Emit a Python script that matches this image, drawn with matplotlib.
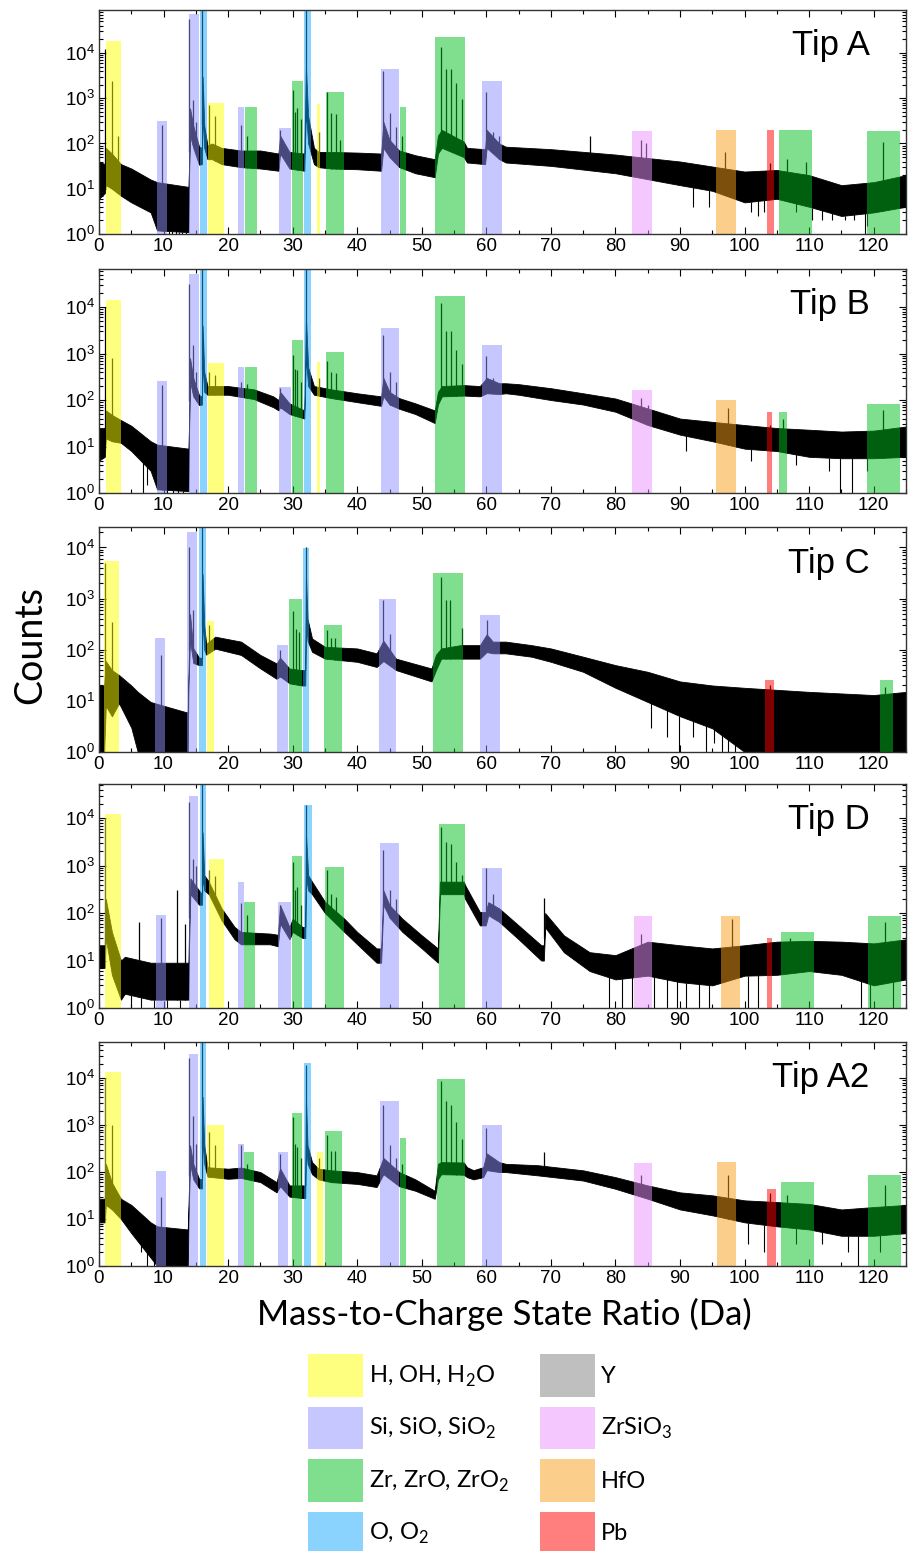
import numpy as np
import matplotlib
matplotlib.use("Agg")
import matplotlib.pyplot as plt
from matplotlib.patches import Patch
from matplotlib.ticker import MultipleLocator, LogLocator, NullFormatter

plt.rcParams["font.family"] = ["Liberation Sans", "DejaVu Sans"]

# ---- range colours (drawn at alpha 0.5 on top of the spectrum) ----
species = ["H", "Si", "Zr", "O", "Y", "ZrSiO3", "HfO", "Pb"]
species_labels = [r"H, OH, H$_\mathregular{2}$O", r"Si, SiO, SiO$_\mathregular{2}$",
                  r"Zr, ZrO, ZrO$_\mathregular{2}$", r"O, O$_\mathregular{2}$",
                  "Y", r"ZrSiO$_\mathregular{3}$", "HfO", "Pb"]
species_colors = ["#ffff00", "#9191ff", "#00c121", "#19a9ff",
                  "#818181", "#eb91ff", "#f9a119", "#ff0000"]
color_of = dict(zip(species, species_colors))

# ---------------- Tip A ----------------
A_env_x  = [0, 0.9, 1.05, 2, 3.4, 5, 8, 9, 13.85, 13.95, 14.1, 14.6, 15.5, 15.95, 16.05, 16.3, 16.8, 17.5, 19, 22, 25,
            27.8, 28.05, 29.5, 31.8, 32.05, 32.4, 33.3, 34, 36, 40, 43.7, 44.05, 45, 46.5, 49, 52, 52.5, 53.1, 56.5,
            57, 59.8, 60.05, 62, 63, 70, 80, 90, 95, 100, 105, 110, 115, 120, 125]
A_env_hi = [40, 35, 80, 60, 35, 28, 16, 14, 11, 30, 600, 250, 85, 80, 3000, 250, 90, 100, 80, 70, 70,
            60, 150, 65, 60, 5000, 400, 80, 65, 65, 63, 60, 300, 120, 70, 55, 45, 150, 200, 110,
            80, 75, 200, 100, 85, 75, 57, 40, 31, 24, 26, 20, 12, 14, 20]
A_env_lo = [6, 8, 12, 10, 7, 5, 3, 1.2, 1.1, 20, 150, 80, 34, 35, 500, 80, 45, 45, 35, 30, 28,
            25, 60, 28, 25, 500, 100, 35, 30, 28, 27, 25, 80, 50, 30, 22, 18, 60, 80, 50,
            38, 35, 80, 45, 38, 32, 22, 12, 9, 5, 6, 4, 2.5, 3, 4]
A_peak_x = [1.0, 2.0, 3.0, 9.7, 14.0, 14.5, 15.0, 16.0, 17.0, 18.0, 22.0, 23.0, 28.0, 30.0, 30.4, 30.7, 31.3, 32.0,
            34.0, 35.3, 36.0, 36.7, 37.3, 44.0, 45.0, 46.0, 47.0, 53.0, 53.7, 54.6, 55.3, 56.3, 60.0, 61.0, 62.0,
            76.0, 84.0, 84.7, 97.0, 104.0, 106.5, 109.5, 121.5]
A_peak_h = [12000, 2400, 150, 250, 57000, 900, 300, 1e6, 700, 400, 250, 150, 200, 1500, 500, 600, 350, 1e6,
            180, 1350, 480, 450, 120, 4000, 480, 230, 150, 13500, 4400, 4400, 2200, 950, 1400, 175, 150,
            150, 120, 100, 66, 38, 45, 40, 110]
A_dip_x = [10.8, 11.3, 11.9, 12.4, 12.9, 13.4, 92, 94.5, 101, 102, 103, 108, 110.5, 112, 113.5, 115.5, 117, 118.6, 119]
A_dip_y = [1, 1, 1, 1, 1, 1, 4, 4, 3, 2.5, 3, 3, 2, 2, 2, 2, 2, 1, 1.5]
A_bars = [("H", 1.08, 3.4, 18500), ("Si", 9.0, 10.5, 310), ("Si", 13.9, 15.5, 74000), ("O", 15.6, 16.8, 1e6),
          ("H", 16.9, 19.3, 770), ("Si", 21.5, 22.4, 630), ("Zr", 22.6, 24.4, 630), ("Si", 27.9, 29.7, 225),
          ("Zr", 29.9, 31.6, 2400), ("O", 31.8, 32.9, 1e6), ("H", 33.7, 34.3, 740), ("Zr", 35.1, 37.9, 1350),
          ("Si", 43.7, 46.4, 4400), ("Zr", 46.7, 47.6, 630), ("Zr", 52.1, 56.7, 23000), ("Si", 59.3, 62.4, 2400),
          ("ZrSiO3", 82.6, 85.6, 185), ("HfO", 95.5, 98.6, 195), ("Pb", 103.4, 104.6, 195),
          ("Zr", 105.4, 110.5, 195), ("Zr", 119.0, 124.1, 185)]

# ---------------- Tip B ----------------
B_env_x  = [0, 0.9, 1.05, 2, 3.4, 5, 8, 9, 13.85, 13.95, 14.1, 14.6, 15.5, 15.95, 16.05, 16.3, 16.8, 20, 24, 27,
            27.8, 28.05, 29.5, 31.8, 32.05, 32.4, 33.3, 36, 40, 43.7, 44.05, 45, 46.5, 49, 52, 52.5, 53.1, 56.5,
            59, 60.05, 62, 63, 65, 70, 75, 80, 85, 90, 95, 100, 105, 110, 115, 120, 125]
B_env_hi = [25, 25, 60, 48, 37, 28, 13, 11, 9, 30, 800, 300, 127, 120, 4000, 400, 200, 200, 170, 120,
            100, 150, 85, 60, 6000, 500, 200, 170, 140, 120, 300, 150, 110, 85, 60, 150, 200, 210,
            200, 300, 230, 230, 220, 180, 140, 108, 66, 40, 34, 29, 25, 23, 21, 22, 27]
B_env_lo = [5, 6, 15, 13, 12, 8, 3, 1.2, 1.1, 20, 250, 120, 78, 80, 800, 150, 130, 130, 105, 70,
            60, 70, 50, 40, 800, 200, 130, 110, 90, 75, 120, 80, 65, 50, 32, 80, 120, 125,
            120, 140, 135, 140, 130, 100, 80, 56, 29, 18, 13, 9, 8, 6, 5.6, 5.6, 6]
B_peak_x = [1.0, 2.0, 9.7, 14.0, 14.5, 15.0, 16.0, 17.0, 18.0, 22.0, 23.0, 28.0, 30.0, 30.4, 30.7, 31.3, 32.0,
            34.0, 35.3, 36.0, 36.7, 44.0, 45.0, 46.0, 53.0, 53.7, 54.6, 55.3, 56.3, 60.0, 61.0,
            84.0, 85.0, 97.5, 104.0, 106.0, 121.5]
B_peak_h = [10000, 800, 210, 32000, 1500, 400, 1e6, 400, 350, 250, 220, 180, 920, 470, 450, 250, 1e6,
            300, 700, 400, 380, 2500, 400, 250, 12000, 3000, 3000, 1200, 600, 900, 300,
            110, 80, 66, 29, 40, 61]
B_dip_x = [6.8, 7.5, 10.5, 11.5, 12.3, 13.0, 91, 101, 108, 113, 114.7, 116.7, 119]
B_dip_y = [1, 1.5, 1, 1, 1, 1, 8, 5, 4, 3, 1, 1, 3]
B_bars = [("H", 1.08, 3.4, 14000), ("Si", 9.0, 10.5, 260), ("Si", 13.9, 15.5, 51000), ("O", 15.6, 16.8, 1e6),
          ("H", 16.9, 19.3, 630), ("Si", 21.5, 22.4, 520), ("Zr", 22.6, 24.4, 520), ("Si", 27.9, 29.7, 187),
          ("Zr", 29.9, 31.6, 1950), ("O", 31.8, 32.9, 1e6), ("H", 33.7, 34.3, 650), ("Zr", 35.1, 37.9, 1100),
          ("Si", 43.7, 46.4, 3500), ("Zr", 52.1, 56.7, 17000), ("Si", 59.3, 62.4, 1500),
          ("ZrSiO3", 82.6, 85.6, 163), ("HfO", 95.5, 98.6, 100), ("Pb", 103.4, 104.3, 56),
          ("Zr", 105.4, 106.6, 56), ("Zr", 119.0, 124.1, 82)]

# ---------------- Tip C ----------------
C_env_x  = [0, 0.8, 1.05, 2, 3.1, 5, 6, 8, 13.5, 13.75, 13.85, 14.1, 14.6, 15.5, 15.95, 16.05, 16.3, 16.6, 18, 22,
            25, 27.5, 28.05, 29.5, 31.4, 31.95, 32.05, 32.3, 33, 35, 40, 43, 44.05, 46, 51.5, 52.2, 53, 56,
            59, 60.05, 61, 63, 67, 70, 75, 80, 85, 90, 95, 100, 110, 120, 125]
C_env_hi = [20, 20, 60, 40, 32, 20, 15, 9.5, 6, 6, 30, 500, 107, 70, 70, 3000, 300, 130, 180, 144,
            79, 54, 70, 43, 40, 40, 3000, 400, 166, 114, 106, 85, 150, 67, 43, 80, 106, 123,
            123, 200, 144, 144, 123, 106, 73, 50, 37, 24, 20, 18, 15, 13, 15]
C_env_lo = [1, 1, 8, 5, 9, 3, 1, 1, 1, 1, 20, 150, 55, 50, 50, 500, 100, 80, 105, 79,
            43, 27, 30, 22, 20, 20, 400, 150, 91, 67, 58, 46, 60, 40, 24, 40, 67, 67,
            67, 90, 85, 85, 73, 58, 37, 18, 9.5, 5, 2.9, 1, 1, 1, 1]
C_peak_x = [1.0, 2.0, 9.6, 14.0, 14.5, 16.0, 17.0, 28.0, 30.0, 30.5, 31.0, 32.0, 35.3, 36.0, 36.6,
            44.0, 45.0, 53.0, 53.7, 54.4, 56.2, 60.1, 104.0, 121.8]
C_peak_h = [5000, 355, 79, 10000, 600, 1e6, 300, 100, 560, 250, 220, 10000, 244, 170, 170,
            940, 200, 2700, 940, 940, 262, 380, 20, 19]
C_dip_x = [85.5, 88, 89.9, 92, 94, 95.2, 96.5, 97.5, 98.5]
C_dip_y = [3, 2, 1, 2, 1, 1.5, 1, 1, 1]
C_bars = [("H", 0.8, 3.1, 5500), ("Si", 8.7, 10.2, 167), ("Si", 13.6, 15.2, 20000), ("O", 15.5, 16.5, 1e6),
          ("H", 16.7, 17.8, 370), ("Si", 27.6, 29.3, 125), ("Zr", 29.5, 31.4, 1000), ("O", 31.6, 32.6, 9800),
          ("Zr", 34.8, 37.7, 310), ("Si", 43.4, 46.0, 1000), ("Zr", 51.8, 56.4, 3200), ("Si", 59.0, 62.1, 480),
          ("Pb", 103.2, 104.6, 26), ("Zr", 121.0, 123.0, 26)]

# ---------------- Tip D ----------------
D_env_x  = [0, 0.9, 1.05, 2, 3.4, 4, 8, 13.85, 13.95, 14.15, 15.5, 15.95, 16.05, 16.3, 17, 19, 21, 22, 26.5, 27.7,
            28.05, 29.5, 30, 31.5, 31.95, 32.05, 32.4, 33, 35, 38, 40, 43, 43.7, 44.05, 45, 47, 50, 52.5, 52.8,
            56.5, 56.7, 59, 59.9, 60.3, 62, 65, 68.5, 68.9, 69.1, 72, 76, 80, 85, 90, 95, 100, 105, 110, 115,
            120, 125]
D_env_hi = [21, 21, 200, 40, 10, 12, 9, 9, 50, 540, 300, 250, 5000, 630, 460, 125, 51, 40, 37, 35,
            147, 51, 76, 51, 51, 5000, 630, 460, 173, 76, 40, 18, 18, 300, 147, 76, 34, 18, 460,
            460, 390, 105, 105, 170, 125, 55, 21, 21, 100, 34, 15, 13, 25, 21, 18, 21, 25, 26, 25,
            23, 28]
D_env_lo = [7, 7, 30, 5, 1.5, 2, 1.5, 1.5, 20, 250, 150, 150, 600, 300, 250, 70, 28, 22, 22, 20,
            60, 28, 40, 30, 30, 600, 300, 250, 100, 40, 22, 9, 9, 150, 80, 40, 18, 9, 250,
            250, 200, 55, 55, 90, 65, 28, 10, 10, 50, 15, 6, 4, 4.8, 3.5, 3, 4.8, 5, 6, 5,
            3, 4]
D_peak_x = [1.0, 6.2, 9.6, 12.1, 13.3, 14.0, 14.5, 15.0, 16.0, 17.0, 18.0, 22.0, 23.0, 28.0, 30.0, 30.3, 30.7,
            31.3, 32.0, 35.3, 36.0, 36.7, 44.0, 45.0, 46.0, 53.0, 53.8, 54.5, 55.3, 56.3, 60.0, 61.0, 69.0,
            84.0, 98.0, 104.0, 107.0, 121.7]
D_peak_h = [10000, 65, 80, 300, 60, 22000, 1400, 1000, 1e6, 800, 600, 160, 90, 147, 1200, 300, 350,
            150, 19000, 800, 250, 220, 2130, 300, 200, 6600, 3200, 2800, 1200, 630, 870, 250, 210,
            37, 76, 25, 30, 65]
D_dip_x = [5, 6.5, 8.5, 10.5, 12.5, 79, 81, 82.5, 86, 88, 89.5, 91, 93, 94.5, 100.5, 102, 118, 119.5, 123]
D_dip_y = [1, 1, 1, 1, 1, 1, 1, 1, 1, 1, 1, 1, 1, 1, 1, 1, 1, 1, 1]
D_bars = [("H", 1.0, 3.4, 12000), ("Si", 8.9, 10.4, 93), ("Si", 13.9, 15.3, 29000), ("O", 15.7, 16.6, 1e6),
          ("H", 17.0, 19.4, 1350), ("Si", 21.6, 22.4, 460), ("Zr", 22.5, 24.2, 172), ("Si", 27.8, 29.8, 172),
          ("Zr", 29.9, 31.4, 1620), ("O", 31.8, 33.0, 19000), ("Zr", 35.0, 38.0, 950), ("Si", 43.6, 46.4, 2950),
          ("Zr", 52.7, 56.7, 7600), ("Si", 59.3, 62.4, 900), ("ZrSiO3", 82.8, 85.6, 86), ("HfO", 96.3, 99.3, 86),
          ("Pb", 103.5, 104.3, 30), ("Zr", 105.6, 110.7, 39), ("Zr", 119.1, 124.3, 86)]

# ---------------- Tip A2 ----------------
A2_env_x  = [0, 0.9, 1.05, 2, 3.4, 5, 8, 9, 13.75, 13.9, 14.1, 14.6, 15.5, 15.95, 16.05, 16.3, 16.8, 20, 22, 25,
             27.5, 28.05, 29.5, 31.5, 31.95, 32.05, 32.3, 33, 34, 36, 40, 43, 44.05, 46.5, 49, 52, 52.5, 53,
             56.5, 57, 58, 59.5, 60.05, 62, 63, 68, 75, 80, 85, 90, 95, 100, 105, 110, 115, 120, 125]
A2_env_hi = [27, 27, 150, 60, 27, 20, 8.5, 7, 6, 30, 370, 150, 72, 70, 4000, 370, 127, 118, 125, 100,
             61, 120, 52, 52, 52, 4000, 370, 163, 118, 109, 100, 85, 200, 100, 70, 40, 150, 163,
             160, 127, 110, 127, 250, 163, 150, 140, 109, 78, 52, 37, 32, 25, 23, 21, 16, 18, 20]
A2_env_lo = [8.5, 8.5, 20, 16, 10, 5, 1.5, 1, 1, 15, 150, 70, 45, 45, 600, 150, 80, 72, 75, 61,
             37, 50, 30, 28, 28, 500, 150, 90, 70, 61, 56, 48, 90, 50, 40, 27, 70, 90,
             88, 78, 70, 78, 110, 100, 100, 85, 66, 44, 27, 16, 12, 8.5, 7, 6, 4.4, 4.4, 5]
A2_peak_x = [1.0, 2.0, 9.6, 14.0, 14.5, 15.0, 16.0, 17.0, 18.0, 22.0, 23.0, 28.0, 30.0, 30.4, 30.7, 31.3, 32.0,
             34.0, 35.3, 36.0, 36.6, 44.0, 45.0, 46.0, 47.0, 53.0, 53.8, 54.5, 55.3, 56.3, 60.0, 61.0, 69.0,
             84.0, 97.5, 104.0, 106.5, 121.7]
A2_peak_h = [10000, 1000, 30, 27000, 1600, 400, 1e6, 720, 370, 370, 150, 246, 1500, 400, 350, 200, 19000,
             200, 610, 280, 280, 2700, 370, 200, 150, 8500, 3200, 2700, 1180, 500, 850, 200, 270,
             85, 85, 35, 32, 52]
A2_dip_x = [6.5, 7.5, 8.5, 100.5, 103, 108, 112, 116, 117.5, 121]
A2_dip_y = [2, 1, 1, 3, 2, 3, 3, 2, 1, 2]
A2_bars = [("H", 1.0, 3.4, 13500), ("Si", 8.9, 10.4, 103), ("Si", 13.9, 15.3, 32000), ("O", 15.7, 16.6, 1e6),
           ("H", 16.8, 19.4, 1030), ("Si", 21.6, 22.4, 400), ("Zr", 22.5, 24.0, 270), ("Si", 27.8, 29.2, 270),
           ("Zr", 29.9, 31.5, 1830), ("O", 31.8, 32.9, 21000), ("H", 33.7, 34.7, 270), ("Zr", 35.0, 37.7, 740),
           ("Si", 43.6, 46.4, 3250), ("Zr", 46.6, 47.5, 520), ("Zr", 52.3, 56.7, 9500), ("Si", 59.3, 62.4, 1030),
           ("ZrSiO3", 82.8, 85.6, 155), ("HfO", 95.7, 98.7, 164), ("Pb", 103.5, 104.8, 44),
           ("Zr", 105.6, 110.7, 61), ("Zr", 119.1, 124.3, 87)]

tip_names = ["Tip A", "Tip B", "Tip C", "Tip D", "Tip A2"]
tip_ymax_exp = [4.95, 4.82, 4.40, 4.72, 4.77]
panels = [
    (A_env_x, A_env_hi, A_env_lo, A_peak_x, A_peak_h, A_dip_x, A_dip_y, A_bars),
    (B_env_x, B_env_hi, B_env_lo, B_peak_x, B_peak_h, B_dip_x, B_dip_y, B_bars),
    (C_env_x, C_env_hi, C_env_lo, C_peak_x, C_peak_h, C_dip_x, C_dip_y, C_bars),
    (D_env_x, D_env_hi, D_env_lo, D_peak_x, D_peak_h, D_dip_x, D_dip_y, D_bars),
    (A2_env_x, A2_env_hi, A2_env_lo, A2_peak_x, A2_peak_h, A2_dip_x, A2_dip_y, A2_bars),
]

W, H = 908, 1551
fig = plt.figure(figsize=(W / 100, H / 100), dpi=100)

# panel placement in pixels (top, bottom)
panel_px = [(10, 234), (269, 493), (527, 752), (784, 1008), (1042, 1266)]
left_px, right_px = 99, 906

for i, (name, ytop, data) in enumerate(zip(tip_names, tip_ymax_exp, panels)):
    ex, ehi, elo, px, ph, dx, dy, bars = data
    t, b = panel_px[i]
    ax = fig.add_axes([left_px / W, 1 - b / H, (right_px - left_px) / W, (b - t) / H])
    ax.set_yscale("log")

    # spectrum band, peaks and noise dips
    ax.fill_between(ex, elo, ehi, color="black", linewidth=0.6, zorder=1)
    ax.vlines(px, np.interp(px, ex, elo), ph, color="black", linewidth=0.9, zorder=1)
    ax.vlines(dx, dy, np.interp(dx, ex, elo), color="black", linewidth=0.8, zorder=1)

    # ranged regions on top
    for kind, x0, x1, top in bars:
        ax.bar(x0, top - 0.5, bottom=0.5, width=x1 - x0, align="edge",
               color=color_of[kind], alpha=0.5, linewidth=0, zorder=2)

    ax.set_xlim(0, 125)
    ax.set_ylim(1, 10 ** ytop)
    ax.xaxis.set_major_locator(MultipleLocator(10))
    ax.xaxis.set_minor_locator(MultipleLocator(5))
    ax.yaxis.set_major_locator(LogLocator(base=10, numticks=10))
    ax.yaxis.set_minor_locator(LogLocator(base=10, subs=np.arange(2, 10), numticks=20))
    ax.yaxis.set_minor_formatter(NullFormatter())
    ax.tick_params(which="both", direction="in", top=True, right=True, labelsize=13.5, width=0.8,
                   pad=3)
    ax.tick_params(which="major", length=5)
    ax.tick_params(which="minor", length=3)
    for s in ax.spines.values():
        s.set_linewidth(1.0)
        s.set_color("#333333")

    ax.text(0.955, 0.84, name, transform=ax.transAxes, ha="right", va="center",
            fontsize=25, zorder=5)

fig.text(30 / W, 1 - 645 / H, "Counts", rotation=90, ha="center", va="center",
         fontsize=27, family=["Lato", "DejaVu Sans"])
fig.text(504 / W, 1 - 1314 / H, "Mass-to-Charge State Ratio (Da)", ha="center", va="center",
         fontsize=25, family=["Lato", "DejaVu Sans"])

handles = [Patch(facecolor=c, alpha=0.5, edgecolor="none") for c in species_colors]
fig.legend(handles, species_labels, loc="upper left", bbox_to_anchor=(308 / W, 1 - 1354 / H),
           ncol=2, frameon=False, prop={"family": ["Lato", "DejaVu Sans"], "size": 17},
           handlelength=2.33, handleheight=2.4, labelspacing=0.42, columnspacing=1.3,
           handletextpad=0.25, borderaxespad=0, borderpad=0)

fig.savefig("out.png", dpi=100)
